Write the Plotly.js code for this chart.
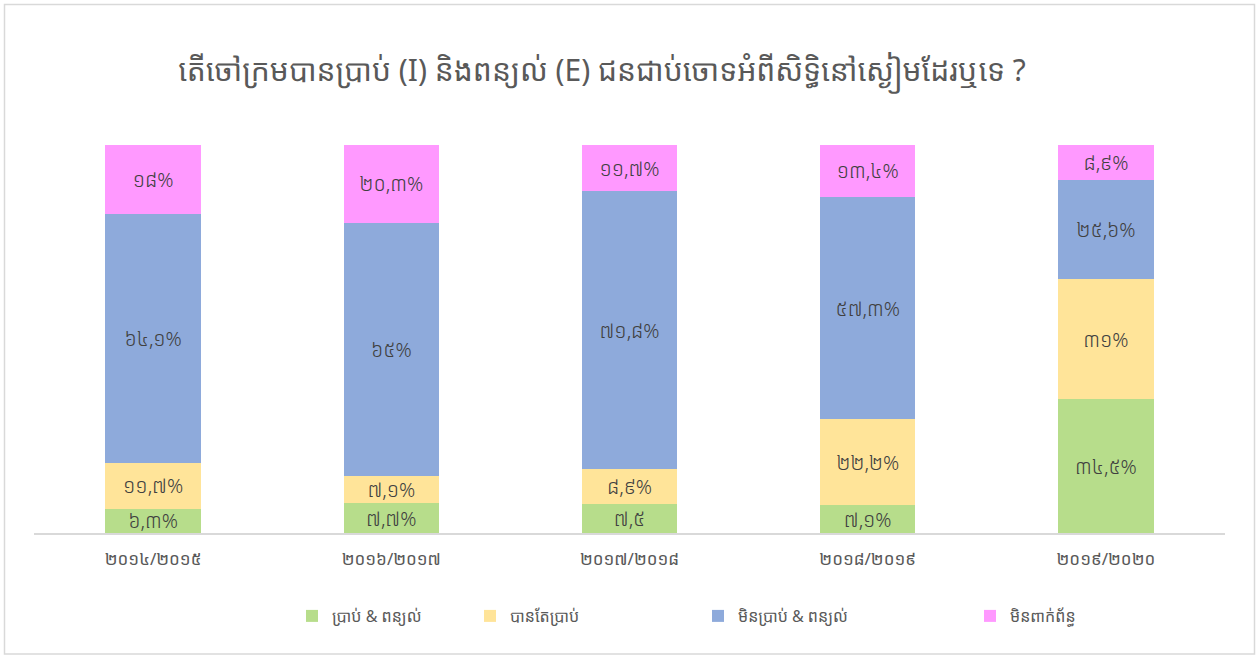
<!DOCTYPE html>
<html>
<head>
<meta charset="utf-8">
<script src="https://cdn.plot.ly/plotly-3.0.1.min.js"></script>
<style>
html,body{margin:0;padding:0;background:#fff;}
#chart{width:1257px;height:655px;}
</style>
</head>
<body>
<div id="chart"></div>
<script>
const categories = ["២០១៤/២០១៥", "២០១៦/២០១៧", "២០១៧/២០១៨", "២០១៨/២០១៩", "២០១៩/២០២០"];
const seriesNames = ["ប្រាប់ & ពន្យល់", "បានតែប្រាប់", "មិនប្រាប់ & ពន្យល់", "មិនពាក់ព័ន្ធ"];
const toldExplained = [6.3, 7.7, 7.5, 7.1, 34.5];
const onlyTold = [11.7, 7.1, 8.9, 22.2, 31];
const notTold = [64.1, 65, 71.8, 57.3, 25.6];
const notRelated = [18, 20.3, 11.7, 13.4, 8.9];
const labelsToldExplained = ["៦,៣%", "៧,៧%", "៧,៥", "៧,១%", "៣៤,៥%"];
const labelsOnlyTold = ["១១,៧%", "៧,១%", "៨,៩%", "២២,២%", "៣១%"];
const labelsNotTold = ["៦៤,១%", "៦៥%", "៧១,៨%", "៥៧,៣%", "២៥,៦%"];
const labelsNotRelated = ["១៨%", "២០,៣%", "១១,៧%", "១៣,៤%", "៨,៩%"];
const colors = ["#b7dd8b", "#ffe499", "#8eaadb", "#ff99ff"];

const FONT = "'Noto Sans Khmer', 'Khmer OS', 'Khmer OS System', 'Noto Sans', 'DejaVu Sans', sans-serif";
const W = 1257, H = 655;
const L = 34, R = 32, T = 145, B = 122;
const pw = W - L - R, ph = H - T - B;
const px = v => (v - L) / pw;
const py = v => (H - B - v) / ph;

const allValues = [toldExplained, onlyTold, notTold, notRelated];
const allLabels = [labelsToldExplained, labelsOnlyTold, labelsNotTold, labelsNotRelated];
const legendNames = ["legend", "legend2", "legend3", "legend4"];
const legendX = [292, 470, 698, 970];

const traces = allValues.map((vals, i) => ({
  type: "bar",
  name: seriesNames[i],
  x: categories,
  y: vals,
  text: allLabels[i],
  texttemplate: "%{text}",
  textposition: "inside",
  insidetextanchor: "middle",
  constraintext: "none",
  textangle: 0,
  textfont: {family: FONT, size: 20, color: "#404040", weight: 300},
  marker: {color: colors[i], line: {width: 0}},
  legend: legendNames[i],
  hoverinfo: "skip"
}));

const legendBase = {
  orientation: "h",
  yanchor: "middle",
  y: py(616),
  xanchor: "left",
  font: {family: FONT, size: 16, color: "#595959"},
  bgcolor: "rgba(0,0,0,0)",
  itemwidth: 30
};

const layout = {
  width: W,
  height: H,
  margin: {l: L, r: R, t: T, b: B},
  paper_bgcolor: "#ffffff",
  plot_bgcolor: "#ffffff",
  barmode: "stack",
  bargap: 0.6,
  title: {
    text: "តើចៅក្រមបានប្រាប់ (I) និងពន្យល់ (E) ជនជាប់ចោទអំពីសិទ្ធិនៅស្ងៀមដែរឬទេ ?",
    font: {family: FONT, size: 30, color: "#595959"},
    x: 602 / W,
    xanchor: "center",
    y: 1 - 70 / H,
    yanchor: "middle"
  },
  xaxis: {
    showgrid: false,
    showline: true,
    linecolor: "#d9d9d9",
    linewidth: 1.5,
    ticks: "",
    ticklabelstandoff: 10,
    tickfont: {family: FONT, size: 17, color: "#595959"},
    zeroline: false,
    fixedrange: true
  },
  yaxis: {
    range: [0, 100],
    visible: false,
    showgrid: false,
    zeroline: false,
    fixedrange: true
  },
  shapes: [{
    type: "rect",
    xref: "paper", yref: "paper",
    x0: px(4.5), x1: px(1254.5),
    y0: py(654), y1: py(4.5),
    line: {color: "#d9d9d9", width: 1.5},
    fillcolor: "rgba(0,0,0,0)",
    layer: "below"
  }],
  showlegend: true
};
legendNames.forEach((n, i) => {
  layout[n] = Object.assign({}, legendBase, {x: px(legendX[i])});
});

Plotly.newPlot("chart", traces, layout, {displayModeBar: false, staticPlot: true});
</script>
</body>
</html>
